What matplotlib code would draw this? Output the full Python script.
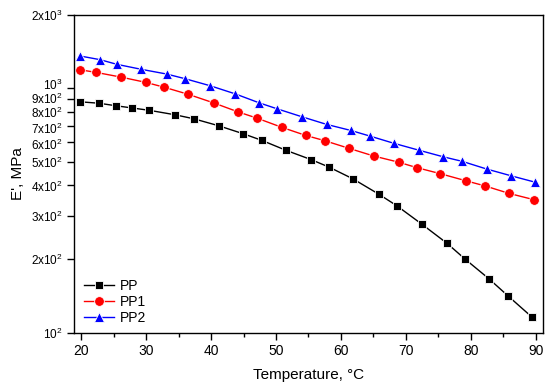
import matplotlib
matplotlib.use("Agg")
import matplotlib.pyplot as plt
import matplotlib.transforms as mtransforms
from matplotlib.ticker import FixedLocator, NullLocator, MultipleLocator

# -----------------------------
# DATA
# -----------------------------
t_pp = [19.85, 22.77, 25.34, 27.89, 30.51, 34.42, 37.34, 41.18, 44.97, 47.80, 51.54,
        55.43, 58.20, 61.89, 65.85, 68.62, 72.42, 76.31, 79.08, 82.77, 85.74, 89.34]
e_pp = [880, 868, 848, 830, 812, 779, 750, 702, 651, 612, 557,
        510, 475, 425, 368, 330, 278, 232, 200, 166, 141, 116]

t_pp1 = [19.85, 22.31, 26.11, 29.95, 32.82, 36.51, 40.46, 44.11, 47.03, 50.88, 54.57,
         57.49, 61.28, 65.03, 68.88, 71.69, 75.28, 79.23, 82.20, 85.89, 89.65]
e_pp1 = [1190, 1161, 1111, 1057, 1009, 944, 870, 801, 755, 692, 641,
         610, 567, 528, 498, 473, 447, 418, 398, 371, 350]

t_pp2 = [19.85, 22.92, 25.49, 29.28, 33.18, 36.00, 39.85, 43.69, 47.38, 50.15, 54.00,
         57.80, 61.49, 64.46, 68.15, 71.95, 75.74, 78.66, 82.42, 86.20, 89.80]
e_pp2 = [1355, 1309, 1253, 1195, 1143, 1094, 1024, 949, 872, 824, 764,
         711, 672, 637, 595, 558, 524, 502, 467, 438, 413]

y_ticks = [100, 200, 300, 400, 500, 600, 700, 800, 900, 1000, 2000]
y_labels = [r"$10^2$", r"$2\mathrm{x}10^2$", r"$3\mathrm{x}10^2$", r"$4\mathrm{x}10^2$",
            r"$5\mathrm{x}10^2$", r"$6\mathrm{x}10^2$", r"$7\mathrm{x}10^2$",
            r"$8\mathrm{x}10^2$", r"$9\mathrm{x}10^2$", r"$10^3$", r"$2\mathrm{x}10^3$"]


def main():
    plt.rcParams["font.family"] = ["Liberation Sans", "DejaVu Sans"]
    plt.rcParams["mathtext.fontset"] = "custom"
    plt.rcParams["mathtext.rm"] = "Liberation Sans"
    plt.rcParams["mathtext.it"] = "Liberation Sans"

    fig = plt.figure(figsize=(5.5, 3.87), dpi=100)
    ax = fig.add_axes([0.1345, 0.1408, 0.8528, 0.8212])

    ax.plot(t_pp, e_pp, color="black", marker="s", ms=6, mec="white", mew=0.6,
            lw=1.0, label="PP")
    ax.plot(t_pp1, e_pp1, color="red", marker="o", ms=7, mec="white", mew=0.6,
            lw=1.0, label="PP1")
    ax.plot(t_pp2, e_pp2, color="blue", marker="^", ms=7.5, mec="white", mew=0.6,
            lw=1.0, label="PP2")

    ax.set_yscale("log")
    ax.set_ylim(100, 2000)
    ax.set_xlim(18.9, 91.1)

    ax.yaxis.set_major_locator(FixedLocator(y_ticks))
    ax.yaxis.set_minor_locator(NullLocator())
    ax.set_yticklabels(y_labels)
    ax.xaxis.set_major_locator(MultipleLocator(10))
    ax.xaxis.set_minor_locator(MultipleLocator(5))

    ax.tick_params(axis="both", which="major", direction="out", length=5, width=1,
                   labelsize=10, top=False, right=False)
    ax.tick_params(axis="y", which="major", labelsize=8.5, pad=3)
    ax.tick_params(axis="x", which="minor", direction="out", length=3, width=1,
                   top=False)
    for s in ax.spines.values():
        s.set_linewidth(1.0)

    # squeeze the crowded labels near 10^3 apart a little
    shifts = {1000: 3.0, 900: 1.0, 800: -0.2, 700: -1.5, 600: -1.0}
    for val, lab in zip(y_ticks, ax.get_yticklabels()):
        if val in shifts:
            off = mtransforms.ScaledTranslation(0, shifts[val] / 72, fig.dpi_scale_trans)
            lab.set_transform(lab.get_transform() + off)

    ax.set_xlabel("Temperature, °C", fontsize=11, labelpad=7)
    ax.set_ylabel("E', MPa", fontsize=11, labelpad=4)

    ax.legend(loc="upper left", bbox_to_anchor=(0.0, 0.2), frameon=False,
              fontsize=10, handlelength=2.2, handletextpad=0.4,
              labelspacing=0.15, borderaxespad=0.3)

    fig.savefig("out.png", dpi=100)
    plt.close(fig)


if __name__ == "__main__":
    main()
